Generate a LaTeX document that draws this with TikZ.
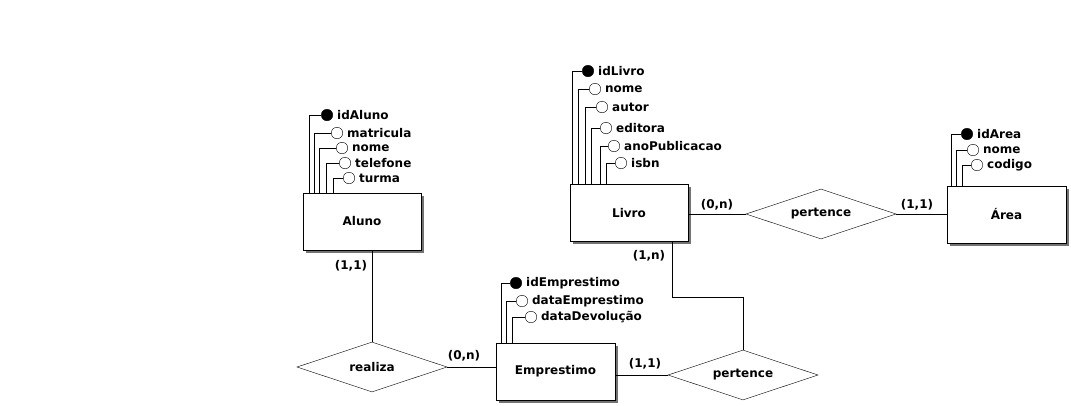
\documentclass[tikz,border=0pt]{standalone}
\usepackage{fontspec}
\setmainfont{DejaVu Sans}
\usetikzlibrary{shapes.geometric,shadows}
\newcommand{\keyAttribute}[6]{%%
  \node[keyStyle] (#1) at (#4,#5) {};
  \node[labelStyle] (#1Label) at (#1.east) [right] {#6};
  \draw[lineStyle] (#3,0 |- #2.north) |- (#1.west);
}
\newcommand{\attribute}[6]{%%
  \node[attrStyle] (#1) at (#4,#5) {};
  \node[labelStyle] (#1Label) at (#1.east) [right] {#6};
  \draw[lineStyle] (#3,0 |- #2.north) |- (#1.west);
}
\newcommand{\cardinality}[3]{%%
  \node[cardStyle] (#1) at (#2) {#3};
}
\begin{document}
\begin{tikzpicture}[x=1pt,y=-1pt,%%
  entityStyle/.style={draw,thick,fill=white,minimum width=118pt,minimum height=57pt,%%
    inner sep=0pt,drop shadow={shadow xshift=2.5pt,shadow yshift=-2.5pt,fill=black!55,opacity=1}},%%
  relationStyle/.style={draw,diamond,aspect=3,inner sep=0pt,minimum width=150pt,minimum height=50pt},%%
  keyStyle/.style={circle,draw,fill=black,inner sep=0pt,minimum size=11.5pt},%%
  attrStyle/.style={circle,draw,fill=white,inner sep=0pt,minimum size=11.5pt},%%
  labelStyle/.style={inner sep=0pt,xshift=4pt},%%
  cardStyle/.style={inner sep=0pt},%%
  lineStyle/.style={-},%%
  font=\bfseries\fontsize{12}{14}\selectfont
]
\useasboundingbox[fill=white] (0,0) rectangle (1071,405);
%%
%% The entities.
\node[entityStyle] (aluno) at (362,221.5) {Aluno};
\node[entityStyle] (livro) at (629,213) {Livro};
\node[entityStyle,minimum width=119pt] (area) at (1006.5,214.5) {Área};
\node[entityStyle,minimum width=119pt] (emprestimo) at (555.5,371.5) {Emprestimo};
%%
%% The relationships.
\node[relationStyle] (realiza) at (372,367) {realiza};
\node[relationStyle] (pertenceArea) at (821,214) {pertence};
\node[relationStyle] (pertenceEmp) at (743,375) {pertence};
%%
%% The attributes of Aluno.
\keyAttribute{idAluno}{aluno}{309}{327}{115}{idAluno}
\attribute{alunoMatricula}{aluno}{314}{337}{133}{matricula}
\attribute{alunoNome}{aluno}{319.5}{342}{148}{nome}
\attribute{alunoTelefone}{aluno}{326}{345}{163}{telefone}
\attribute{alunoTurma}{aluno}{333}{349}{178}{turma}
%%
%% The attributes of Livro.
\keyAttribute{idLivro}{livro}{572}{588}{71}{idLivro}
\attribute{livroNome}{livro}{578}{595}{89}{nome}
\attribute{livroAutor}{livro}{585}{602}{107}{autor}
\attribute{livroEditora}{livro}{591}{606}{128}{editora}
\attribute{livroAno}{livro}{600}{614}{146}{anoPublicacao}
\attribute{livroIsbn}{livro}{606}{621}{163}{isbn}
%%
%% The attributes of Area.
\keyAttribute{idArea}{area}{951}{967}{134}{idArea}
\attribute{areaNome}{area}{956}{973}{150}{nome}
\attribute{areaCodigo}{area}{962}{977}{165}{codigo}
%%
%% The attributes of Emprestimo.
\keyAttribute{idEmprestimo}{emprestimo}{501}{516}{283}{idEmprestimo}
\attribute{empData}{emprestimo}{506}{522}{301}{dataEmprestimo}
\attribute{empDevolucao}{emprestimo}{512}{531}{317}{dataDevolução}
%%
%% The connectors.
\draw[lineStyle] (realiza.north) -- (realiza.north |- aluno.south);
\draw[lineStyle] (realiza.east) -- (realiza.east -| emprestimo.west);
\draw[lineStyle] (pertenceArea.west) -- (pertenceArea.west -| livro.east);
\draw[lineStyle] (pertenceArea.east) -- (pertenceArea.east -| area.west);
\draw[lineStyle] (672,0 |- livro.south) -- (672,297) -| (pertenceEmp.north);
\draw[lineStyle] (pertenceEmp.west) -- (pertenceEmp.west -| emprestimo.east);
%%
%% The cardinalities.
\cardinality{cardAluno}{351,266}{(1,1)}
\cardinality{cardRealiza}{464,356}{(0,n)}
\cardinality{cardLivroArea}{717,205}{(0,n)}
\cardinality{cardArea}{917,205}{(1,1)}
\cardinality{cardLivroEmp}{649,256}{(1,n)}
\cardinality{cardEmp}{645,364}{(1,1)}
\end{tikzpicture}
\end{document}
